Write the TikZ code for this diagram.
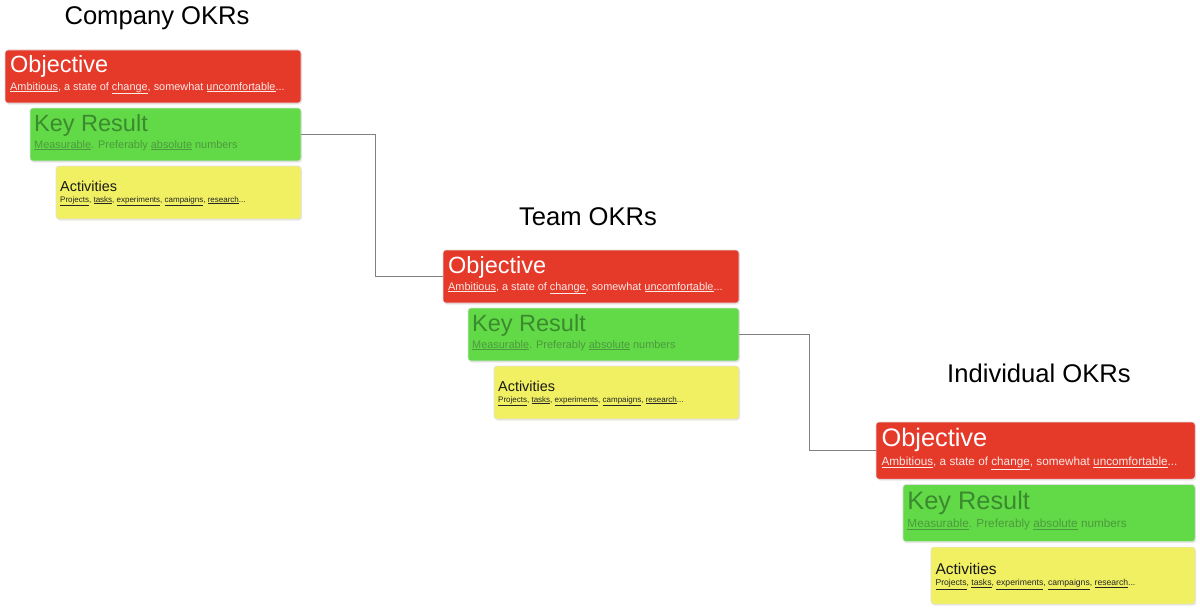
\documentclass[tikz,border=0pt]{standalone}
\usepackage{fontspec}
\setmainfont{Liberation Sans}
\usetikzlibrary{shadows}
\definecolor{okrred}{HTML}{E5392A}
\definecolor{okrgreen}{HTML}{62D947}
\definecolor{okryellow}{HTML}{F0F062}
\definecolor{krtext}{HTML}{3A8A2E}
\definecolor{krsub}{HTML}{4C9A3E}
\definecolor{objsub}{HTML}{FBE9E6}
\definecolor{linkgray}{HTML}{808080}
\newcommand{\ul}[1]{\underline{#1}}
\tikzset{
  okrbox/.style={rectangle, rounded corners=3pt, draw=black!12, line width=0.6pt,
    inner sep=0pt, drop shadow={opacity=0.18, shadow xshift=1pt, shadow yshift=-1.5pt}},
  objbox/.style={okrbox, fill=okrred},
  krbox/.style={okrbox, fill=okrgreen},
  actbox/.style={okrbox, fill=okryellow},
  txt/.style={anchor=base west, inner sep=0pt},
  bigtitle/.style={txt, font=\fontsize{23.5}{28}\selectfont},
  subtxt/.style={txt, font=\fontsize{10.9}{13}\selectfont},
  acttitle/.style={txt, font=\fontsize{14.4}{17}\selectfont, text=black!90},
  actsub/.style={txt, font=\fontsize{8}{9.5}\selectfont, text=black!85},
  head/.style={anchor=base, inner sep=0pt, font=\fontsize{25.6}{30}\selectfont, text=black},
  link/.style={draw=linkgray, line width=1.3pt}
}
\newcommand{\okrblock}[4]{%
\begin{scope}[shift={(#2,#3)}, scale=#4, transform shape]
  \node[objbox, minimum width=296, minimum height=53] (#1obj) at (148,26.5) {};
  \node[bigtitle, text=white] (#1objt) at (5,23) {Objective};
  \node[subtxt, text=objsub] (#1objs) at (5,40) {\ul{Ambitious}, a state of \ul{change}, somewhat \ul{uncomfortable}...};
  \node[krbox, minimum width=271, minimum height=53] (#1kr) at (160.5,84.5) {};
  \node[bigtitle, text=krtext] (#1krt) at (29,81) {Key Result};
  \node[subtxt, text=krsub] (#1krs) at (29,98) {\ul{Measurable}. Preferably \ul{absolute} numbers};
  \node[actbox, minimum width=245, minimum height=53] (#1act) at (173.5,142.5) {};
  \node[acttitle] (#1actt) at (55,141) {Activities};
  \node[actsub] (#1acts) at (55,152) {\ul{Projects}, \ul{tasks}, \ul{experiments}, \ul{campaigns}, \ul{research}...};
\end{scope}}
\begin{document}
\begin{tikzpicture}[x=1pt,y=-1pt]
\useasboundingbox[fill=white] (0,0) rectangle (1200,610);
\node[head] (chead) at (157,25) {Company OKRs};
\node[head] (thead) at (588,225) {Team OKRs};
\node[head] (ihead) at (1039,382) {Individual OKRs};
\okrblock{c}{5}{50}{1}
\okrblock{t}{443}{250}{1}
\okrblock{i}{876}{422}{1.078}
\draw[link] (ckr.east) -- ++(74,0) |- (tobj.west);
\draw[link] (tkr.east) -- ++(70,0) |- (iobj.west);
\end{tikzpicture}
\end{document}
